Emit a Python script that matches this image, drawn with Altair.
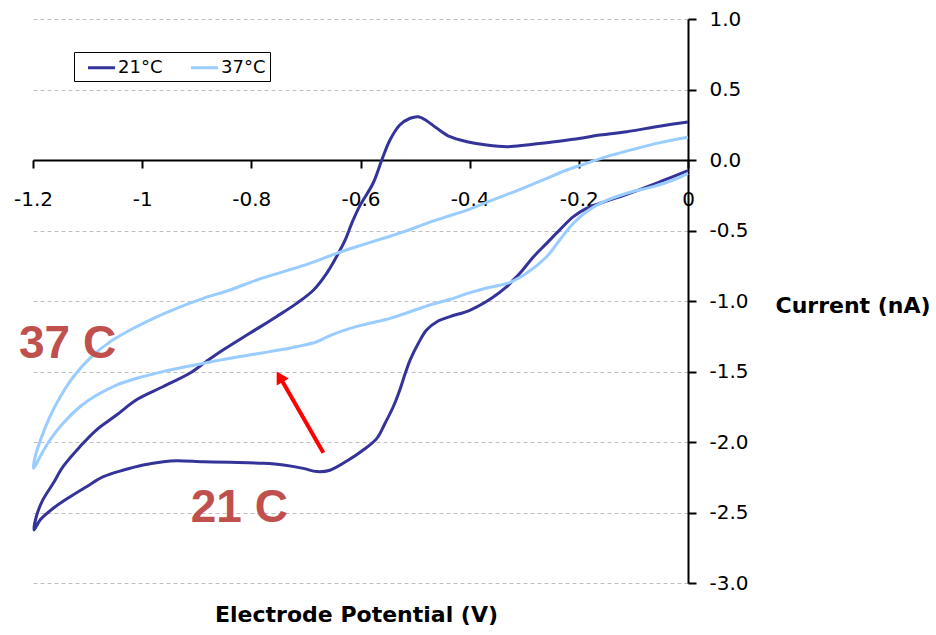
import altair as alt
import pandas as pd

# Cyclic voltammograms: potential (V) and current (nA) in scan order
V21 = [0.0, -0.051, -0.112, -0.161, -0.186, -0.210, -0.235, -0.259, -0.283, -0.308,
       -0.323, -0.332, -0.360, -0.399, -0.436, -0.460, -0.479, -0.494, -0.509, -0.518,
       -0.528, -0.540, -0.555, -0.570, -0.595, -0.625, -0.656, -0.680, -0.705, -0.741,
       -0.778, -0.839, -0.888, -0.937, -0.961, -0.998, -1.034, -1.071, -1.102, -1.132,
       -1.163, -1.187, -1.198,
       -1.194, -1.182, -1.163, -1.145, -1.114, -1.084, -1.047, -1.011, -0.962, -0.913,
       -0.883, -0.852, -0.803, -0.754, -0.717, -0.686, -0.662, -0.644, -0.628, -0.616,
       -0.602, -0.577, -0.561, -0.546, -0.528, -0.509, -0.494, -0.479, -0.460, -0.436,
       -0.405, -0.369, -0.332, -0.296, -0.259, -0.210, -0.161, -0.112, -0.064, -0.027, 0.0]
I21 = [-0.076, -0.154, -0.243, -0.307, -0.343, -0.402, -0.496, -0.591, -0.686, -0.804,
       -0.863, -0.898, -0.980, -1.064, -1.111, -1.147, -1.206, -1.300, -1.418, -1.513,
       -1.631, -1.750, -1.867, -1.974, -2.057, -2.135, -2.200, -2.210, -2.187, -2.163,
       -2.151, -2.144, -2.140, -2.133, -2.140, -2.163, -2.199, -2.246, -2.317, -2.388,
       -2.470, -2.553, -2.624,
       -2.530, -2.411, -2.293, -2.175, -2.033, -1.915, -1.809, -1.702, -1.608, -1.513,
       -1.430, -1.348, -1.229, -1.111, -1.017, -0.922, -0.804, -0.686, -0.567, -0.449,
       -0.331, -0.165, 0.0, 0.142, 0.248, 0.296, 0.307, 0.279, 0.225, 0.165,
       0.130, 0.106, 0.094, 0.106, 0.123, 0.147, 0.177, 0.201, 0.232, 0.255, 0.270]

V37 = [0.0, -0.051, -0.100, -0.149, -0.186, -0.222, -0.259, -0.296, -0.332, -0.369,
       -0.405, -0.442, -0.479, -0.515, -0.552, -0.601, -0.644, -0.693, -0.741, -0.790,
       -0.839, -0.888, -0.937, -0.986, -1.022, -1.059, -1.096, -1.126, -1.150, -1.169,
       -1.184, -1.196, -1.199,
       -1.187, -1.169, -1.145, -1.114, -1.083, -1.047, -1.010, -0.962, -0.913, -0.863,
       -0.815, -0.766, -0.717, -0.680, -0.656, -0.619, -0.583, -0.546, -0.509, -0.473,
       -0.436, -0.399, -0.363, -0.326, -0.296, -0.259, -0.235, -0.210, -0.186, -0.161,
       -0.112, -0.064, -0.027, 0.0]
I37 = [0.161, 0.123, 0.076, 0.024, -0.024, -0.071, -0.130, -0.190, -0.245, -0.300,
       -0.355, -0.402, -0.449, -0.501, -0.548, -0.607, -0.662, -0.733, -0.792, -0.851,
       -0.922, -0.981, -1.052, -1.135, -1.206, -1.290, -1.407, -1.537, -1.679, -1.820,
       -1.962, -2.104, -2.187,
       -2.104, -1.986, -1.867, -1.750, -1.667, -1.596, -1.548, -1.501, -1.461, -1.423,
       -1.390, -1.359, -1.324, -1.289, -1.245, -1.194, -1.158, -1.123, -1.076, -1.028,
       -0.988, -0.941, -0.903, -0.868, -0.804, -0.686, -0.567, -0.449, -0.367, -0.307,
       -0.236, -0.189, -0.142, -0.095]

SERIES = ["21°C", "37°C"]
COLORS = ["#333399", "#99CCFF"]

X_TICKS = [-1.2, -1.0, -0.8, -0.6, -0.4, -0.2, 0.0]
Y_TICKS = [-3.0, -2.5, -2.0, -1.5, -1.0, -0.5, 0.0, 0.5, 1.0]

# In-plot labels (data units) and the red arrow between the two traces
NOTE_TEXT = ["37 C", "21 C"]
NOTE_V = [-1.2257, -0.911]
NOTE_I = [-1.404, -2.567]
ARROW_TAIL = (-0.668, -2.076)
ARROW_HEAD = (-0.748, -1.538)

rows = []
for name, vs, cs in [(SERIES[0], V21, I21), (SERIES[1], V37, I37)]:
    for k, (v, c) in enumerate(zip(vs, cs)):
        rows.append({"series": name, "step": k, "potential": v, "current": c})
curves = pd.DataFrame(rows)

notes = pd.DataFrame({"label": NOTE_TEXT, "potential": NOTE_V, "current": NOTE_I})
arrow = pd.DataFrame({"potential": [ARROW_TAIL[0]], "current": [ARROW_TAIL[1]],
                      "potential2": [ARROW_HEAD[0]], "current2": [ARROW_HEAD[1]]})
head = pd.DataFrame({"potential": [ARROW_HEAD[0]], "current": [ARROW_HEAD[1]]})

FONT = "DejaVu Sans"

x_enc = alt.X(
    "potential:Q",
    scale=alt.Scale(domain=[-1.2, 0.0], nice=False, zero=False),
    axis=alt.Axis(
        orient="bottom", offset=-423, values=X_TICKS,
        labelExpr="datum.value < 0 ? '-' + format(-datum.value, '~g') : format(datum.value, '~g')",
        labelFont=FONT, labelFontSize=20, labelColor="black", labelPadding=21,
        labelFlush=False, labelOverlap=False,
        tickSize=8, tickWidth=2, tickColor="black",
        domainColor="black", domainWidth=2, grid=False,
        title="Electrode Potential (V)", titleFont=FONT, titleFontSize=22,
        titleFontWeight="bold", titleColor="black",
        titleX=323, titleY=461, titleAlign="center", titleBaseline="alphabetic",
    ),
)
y_enc = alt.Y(
    "current:Q",
    scale=alt.Scale(domain=[-3.0, 1.0], nice=False, zero=False),
    axis=alt.Axis(
        orient="right", values=Y_TICKS,
        labelExpr="datum.value < 0 ? '-' + format(-datum.value, '.1f') : format(datum.value, '.1f')",
        labelFont=FONT, labelFontSize=20, labelColor="black", labelPadding=13,
        labelAlign="left", labelFlush=False, labelOverlap=False,
        tickSize=8, tickWidth=2, tickColor="black",
        domainColor="black", domainWidth=2,
        grid=True, gridDash=[4, 3], gridColor="#BFBFBF", gridWidth=1,
        title="Current (nA)", titleFont=FONT, titleFontSize=22,
        titleFontWeight="bold", titleColor="black", titleAngle=0,
        titleX=87, titleY=293, titleAlign="left", titleBaseline="alphabetic",
    ),
)

# Legend: last entry gets trailing padding so the frame has room on the right
legend_label = (
    "datum.value == '" + SERIES[-1] + "' ? datum.label + "
    "'\u00a0\u00a0\u00a0\u00a0\u00a0\u00a0\u00a0' : datum.label"
)

lines = alt.Chart(curves).mark_line(strokeWidth=3, interpolate="catmull-rom").encode(
    x=x_enc,
    y=y_enc,
    order="step:Q",
    color=alt.Color(
        "series:N",
        scale=alt.Scale(domain=SERIES, range=COLORS),
        legend=alt.Legend(
            orient="none", legendX=41, legendY=33, direction="horizontal", title=None,
            symbolType="M-1.35,0L1.35,0", symbolStrokeWidth=3, symbolSize=400,
            symbolOffset=12,
            labelExpr=legend_label,
            labelFont=FONT, labelFontSize=18, labelColor="black", labelOffset=5,
            strokeColor="black", fillColor="white", padding=4, cornerRadius=0,
            columnPadding=18,
        ),
    ),
)

note_text = alt.Chart(notes).mark_text(
    align="left", baseline="alphabetic", font="Liberation Sans", fontWeight="bold",
    fontSize=46, color="#C0504D",
).encode(x="potential:Q", y="current:Q", text="label:N")

arrow_line = alt.Chart(arrow).mark_rule(color="#FF0000", strokeWidth=4).encode(
    x="potential:Q", y="current:Q", x2="potential2:Q", y2="current2:Q"
)
arrow_head = alt.Chart(head).mark_point(
    shape="triangle-up", filled=True, size=196, angle=330, color="#FF0000", opacity=1
).encode(x="potential:Q", y="current:Q")

chart = alt.layer(lines, arrow_line, arrow_head, note_text).properties(
    width=655,
    height=564,
    padding={"left": 33, "top": 19, "right": 248, "bottom": 52},
    autosize=alt.AutoSizeParams(type="none"),
    background="white",
).configure_view(stroke=None)

chart.save("out.html", embed_options={"renderer": "svg", "actions": False})
